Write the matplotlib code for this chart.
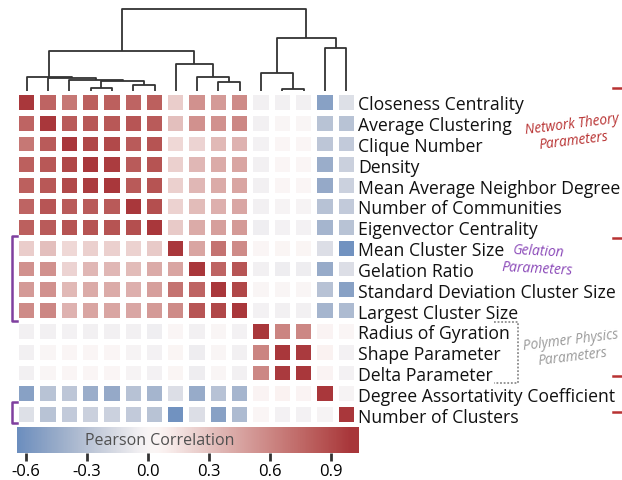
import numpy as np
import matplotlib
matplotlib.use("Agg")
import matplotlib.pyplot as plt
import seaborn as sns
from matplotlib.colors import TwoSlopeNorm

plt.rcParams['font.family'] = ['Open Sans', 'DejaVu Sans']

# variables, in clustered order (rows = columns)
labels = [
    "Closeness Centrality", "Average Clustering", "Clique Number", "Density",
    "Mean Average Neighbor Degree", "Number of Communities", "Eigenvector Centrality",
    "Mean Cluster Size", "Gelation Ratio", "Standard Deviation Cluster Size",
    "Largest Cluster Size", "Radius of Gyration", "Shape Parameter", "Delta Parameter",
    "Degree Assortativity Coefficient", "Number of Clusters",
]

# upper triangle of the Pearson correlation matrix, row i holds columns i..15
upper = [
    [1.0, 0.78, 0.68, 0.80, 0.80, 0.78, 0.80, 0.25, 0.55, 0.50, 0.58, -0.04, -0.04, -0.04, -0.52, -0.13],
    [1.0, 0.82, 0.84, 0.84, 0.85, 0.82, 0.32, 0.55, 0.55, 0.60, -0.04, 0.01, 0.01, -0.30, -0.30],
    [1.0, 0.92, 0.91, 0.82, 0.86, 0.20, 0.22, 0.35, 0.38, -0.03, 0.02, 0.02, -0.28, -0.26],
    [1.0, 0.97, 0.82, 0.86, 0.24, 0.36, 0.42, 0.45, -0.04, 0.02, 0.02, -0.44, -0.22],
    [1.0, 0.83, 0.86, 0.24, 0.36, 0.42, 0.45, -0.04, 0.02, 0.02, -0.46, -0.21],
    [1.0, 0.88, 0.23, 0.34, 0.40, 0.44, -0.04, -0.02, -0.02, -0.31, -0.26],
    [1.0, 0.27, 0.42, 0.48, 0.50, -0.05, -0.03, -0.03, -0.39, -0.30],
    [1.0, 0.45, 0.70, 0.58, 0.02, 0.03, 0.03, -0.14, -0.62],
    [1.0, 0.78, 0.85, -0.04, -0.06, -0.06, -0.45, -0.14],
    [1.0, 0.92, 0.01, 0.01, 0.01, -0.31, -0.52],
    [1.0, -0.03, -0.04, -0.04, -0.39, -0.35],
    [1.0, 0.62, 0.60, 0.06, 0.02],
    [1.0, 0.98, 0.07, -0.03],
    [1.0, 0.06, -0.03],
    [1.0, -0.02],
    [1.0],
]

# column dendrogram: (left child, right child, merge height); new nodes numbered from 16
merges = [
    (3, 4, 2.7), (5, 6, 6.3), (16, 17, 9.7), (2, 18, 11.0), (1, 19, 12.7),
    (0, 20, 14.0), (9, 10, 8.7), (8, 22, 14.3), (7, 23, 27.0), (21, 24, 40.0),
    (12, 13, 2.0), (11, 26, 17.7), (14, 15, 42.7), (27, 28, 53.0), (25, 29, 82.0),
]

cbar_ticks = [-0.6, -0.3, 0.0, 0.3, 0.6, 0.9]
cbar_range = (-0.644, 1.038)

n = len(labels)
corr = np.zeros((n, n))
for i, row in enumerate(upper):
    corr[i, i:] = row
    corr[i:, i] = row

W, H = 622, 481
fig = plt.figure(figsize=(W / 100, H / 100), dpi=100)
cmap = sns.color_palette("vlag", as_cmap=True)
norm = TwoSlopeNorm(vcenter=0.03, vmin=-0.9, vmax=1.0)

def fr(x0, y0, x1, y1):
    return [x0 / W, 1 - y1 / H, (x1 - x0) / W, (y1 - y0) / H]

# heatmap
ax = fig.add_axes(fr(16, 93, 357, 426))
ax.pcolormesh(corr, cmap=cmap, norm=norm, edgecolors='white', linewidth=2.9)
ax.set_xlim(0, n)
ax.set_ylim(n, 0)
for s in ax.spines.values():
    s.set_visible(False)
ax.set_xticks([])
ax.set_yticks(np.arange(n) + 0.5)
ax.set_yticklabels(labels, fontsize=12.7, color='#111111')
ax.yaxis.tick_right()
ax.tick_params(axis='y', length=0, pad=1)

# dendrogram
axd = fig.add_axes(fr(16, 7, 357, 92))
xs = {i: i + 0.5 for i in range(n)}
hs = {i: 0.0 for i in range(n)}
for k, (a, b, h) in enumerate(merges):
    axd.plot([xs[a], xs[a], xs[b], xs[b]], [hs[a], h, h, hs[b]],
             color='#333333', lw=1.3, solid_capstyle='butt')
    xs[n + k] = (xs[a] + xs[b]) / 2
    hs[n + k] = h
axd.set_xlim(0, n)
axd.set_ylim(0, 85)
axd.axis('off')

# colorbar
axc = fig.add_axes(fr(17, 428, 359, 454))
grad = np.linspace(cbar_range[0], cbar_range[1], 400).reshape(1, -1)
axc.imshow(grad, cmap=cmap, norm=norm, aspect='auto',
           extent=[cbar_range[0], cbar_range[1], 0, 1])
axc.set_xlim(*cbar_range)
axc.set_yticks([])
axc.set_xticks(cbar_ticks)
axc.set_xticklabels([f"{t:.1f}" for t in cbar_ticks], fontsize=12)
axc.tick_params(axis='x', length=6, width=2, color='#333333', pad=1)
for s in axc.spines.values():
    s.set_visible(False)
axc.text(0.418, 0.5, "Pearson Correlation", transform=axc.transAxes,
         ha='center', va='center', fontsize=11.5, color='#505050')

# annotations in pixel space
ov = fig.add_axes([0, 0, 1, 1], facecolor='none')
ov.set_xlim(0, W)
ov.set_ylim(H, 0)
ov.axis('off')

ov.text(573, 133, "Network Theory\nParameters", ha='center', va='center',
        rotation=7, fontsize=9.8, style='italic', color='#b83232', linespacing=1.15)
ov.text(538, 261, "Gelation\nParameters", ha='center', va='center',
        rotation=-3, fontsize=10, style='italic', color='#8a48b8', linespacing=1.25)
ov.text(572, 349, "Polymer Physics\nParameters", ha='center', va='center',
        rotation=7, fontsize=9.8, style='italic', color='#9a9a9a', linespacing=1.15)

ov.plot([494, 518, 518, 494], [323, 323, 384, 384], color='#8c8c8c', lw=1.3, ls=(0, (1, 1)))

for y in [89, 239, 377, 413]:
    ov.plot([613, 622], [y, y], color='#b83232', lw=1.8)

purple = '#7f3f9f'
ov.plot([17, 12, 12, 17], [237, 237, 322, 322], color=purple, lw=1.8)
ov.plot([17, 12, 12, 17], [403, 403, 424, 424], color=purple, lw=1.8)

fig.savefig("out.png", dpi=100)
